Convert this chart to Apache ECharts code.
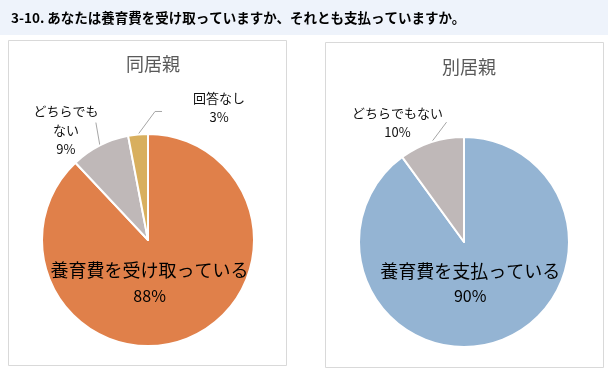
<!DOCTYPE html>
<html>
<head>
<meta charset="utf-8">
<script src="https://cdn.jsdelivr.net/npm/echarts@6/dist/echarts.min.js"></script>
<style>
html,body{margin:0;padding:0;background:#fff;}
#c{width:609px;height:374px;}
</style>
</head>
<body>
<div id="c"></div>
<script>
// ---- data ----
const mainTitle = '3-10. あなたは養育費を受け取っていますか、それとも支払っていますか。';
const leftTitle = '同居親';
const rightTitle = '別居親';
const leftNames = ['養育費を受け取っている', 'どちらでもない', '回答なし'];
const leftLabels = ['養育費を受け取っている', 'どちらでも\nない', '回答なし'];
const leftValues = [88, 9, 3];
const rightNames = ['養育費を支払っている', 'どちらでもない'];
const rightLabels = ['養育費を支払っている', 'どちらでもない'];
const rightValues = [90, 10];

// ---- styles ----
const leftColors = ['#E0804A', '#BFB8B8', '#D8AF5E'];
const rightColors = ['#94B4D3', '#BFB8B8'];
const FONT = '"Noto Sans CJK JP", "Noto Sans", sans-serif';

// label placement relative to slice edge point: [lineMid dx, dy, lineEnd dx, dy, label dx, dy]
const leftLabelPlace = [null, [-4, -23, -4, -23, -34, -15], [17, -23, 24, -23, 81, -27]];
const rightLabelPlace = [null, [15, -20, 15, -20, -34, -20]];

function buildData(names, labels, values, colors, bigOffset) {
  return names.map((n, i) => {
    const item = { name: n, value: values[i], itemStyle: { color: colors[i] } };
    if (i === 0) {
      item.label = {
        position: 'inside',
        offset: bigOffset,
        formatter: p => '{a|' + labels[i] + '}\n{b|' + p.value + '%}',
        rich: {
          a: { fontSize: 18, lineHeight: 25, color: '#000', fontFamily: FONT },
          b: { fontSize: 16, lineHeight: 25, color: '#000', fontFamily: FONT }
        }
      };
      item.labelLine = { show: false };
    } else {
      item.label = {
        position: 'outside',
        formatter: p => labels[i] + '\n' + p.value + '%',
        fontSize: 13, lineHeight: 19, color: '#111', fontFamily: FONT, align: 'center'
      };
      item.labelLine = { show: true, length: 20, length2: 6, lineStyle: { color: '#A6A6A6', width: 1 } };
    }
    return item;
  });
}

function makeLayout(place) {
  return function (p) {
    const pl = place[p.dataIndex];
    if (!pl || !p.labelLinePoints) return {};
    const e = p.labelLinePoints[0];
    return {
      x: e[0] + pl[4], y: e[1] + pl[5], align: 'center', verticalAlign: 'middle',
      labelLinePoints: [[e[0], e[1]], [e[0] + pl[0], e[1] + pl[1]], [e[0] + pl[2], e[1] + pl[3]]]
    };
  };
}

const chart = echarts.init(document.getElementById('c'), null, { renderer: 'canvas' });
chart.setOption({
  animation: false,
  backgroundColor: '#fff',
  graphic: [
    { type: 'rect', shape: { x: 0, y: 0, width: 608, height: 35 }, style: { fill: '#EEF3FB' }, z: -10 },
    { type: 'rect', shape: { x: 8.5, y: 40.5, width: 278, height: 325 }, style: { fill: '#fff', stroke: '#D9D9D9', lineWidth: 1 }, z: -10 },
    { type: 'rect', shape: { x: 325.5, y: 42.5, width: 278, height: 325 }, style: { fill: '#fff', stroke: '#D9D9D9', lineWidth: 1 }, z: -10 }
  ],
  title: [
    { text: mainTitle, left: 6, top: 6, textStyle: { fontSize: 13.5, fontWeight: 'bold', color: '#000', fontFamily: FONT } },
    { text: leftTitle, left: 148, top: 50, textAlign: 'center', textStyle: { fontSize: 18, fontWeight: 'normal', color: '#595959', fontFamily: FONT } },
    { text: rightTitle, left: 464, top: 53, textAlign: 'center', textStyle: { fontSize: 18, fontWeight: 'normal', color: '#595959', fontFamily: FONT } }
  ],
  series: [
    {
      type: 'pie', center: [148, 240], radius: 106, startAngle: 90, clockwise: true,
      avoidLabelOverlap: false,
      itemStyle: { borderColor: '#fff', borderWidth: 2 },
      labelLayout: makeLayout(leftLabelPlace),
      data: buildData(leftNames, leftLabels, leftValues, leftColors, [-19, -9])
    },
    {
      type: 'pie', center: [464, 242], radius: 105, startAngle: 90, clockwise: true,
      avoidLabelOverlap: false,
      itemStyle: { borderColor: '#fff', borderWidth: 2 },
      labelLayout: makeLayout(rightLabelPlace),
      data: buildData(rightNames, rightLabels, rightValues, rightColors, [-11, -11])
    }
  ]
});
</script>
</body>
</html>
